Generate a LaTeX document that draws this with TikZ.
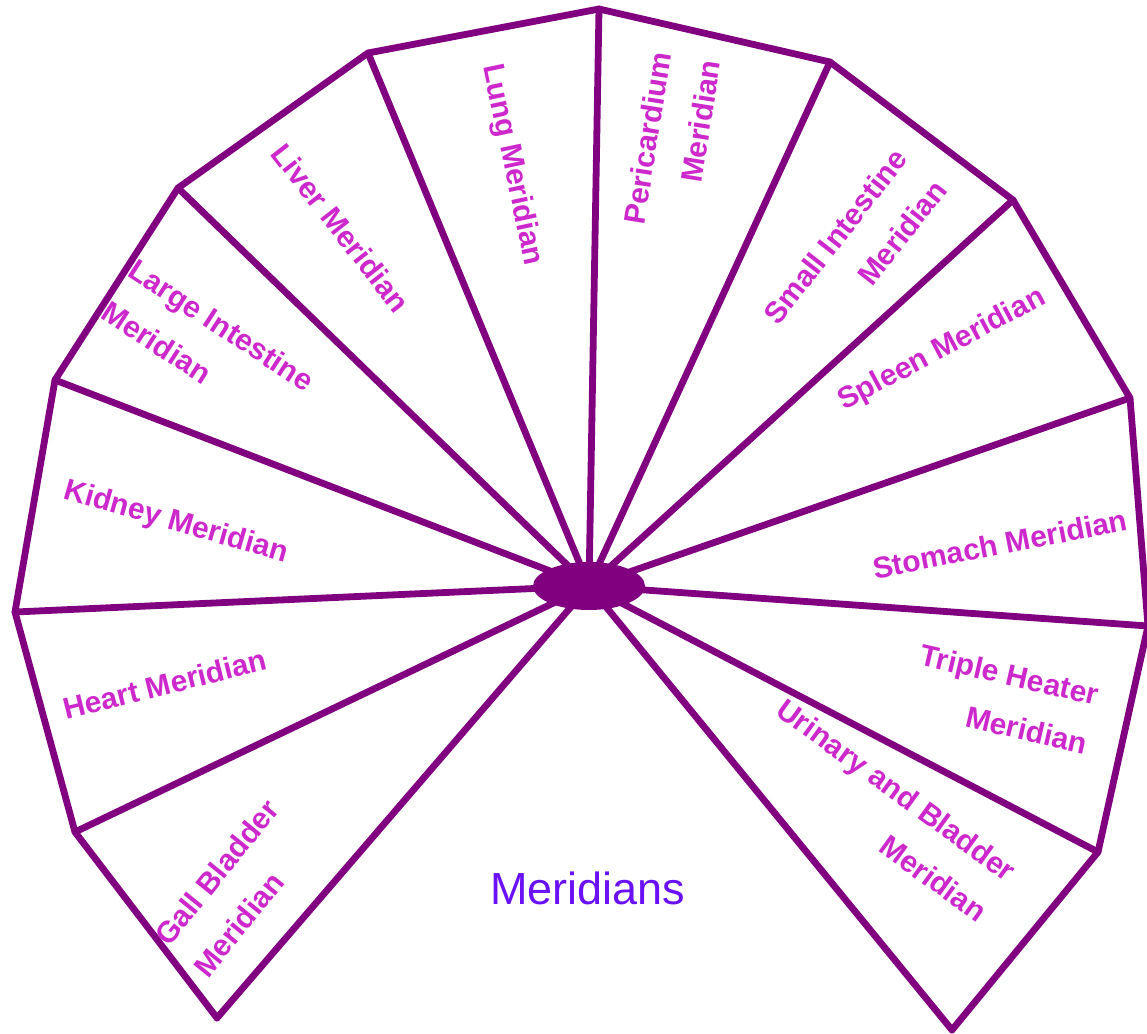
\documentclass[tikz,border=0pt]{standalone}
\usepackage{fontspec}
\setmainfont{Liberation Sans}
\usetikzlibrary{shapes.geometric}
\definecolor{fanline}{RGB}{128,0,128}
\definecolor{labelmag}{RGB}{204,40,204}
\definecolor{titleviolet}{RGB}{106,16,245}
\begin{document}
\begin{tikzpicture}[x=0.5pt,y=-0.5pt,
  spoke/.style={draw=fanline,line width=3.4pt,line cap=round,line join=round},
  lab/.style={text=labelmag,font=\fontsize{15}{25}\selectfont\bfseries,inner sep=0pt},
  title/.style={text=titleviolet,font=\fontsize{22.5}{26}\selectfont,inner sep=0pt}]
\useasboundingbox (0,0) rectangle (1147,1034);
\fill[white] (0,0) rectangle (1147,1034);
\coordinate (c) at (589,586);
\coordinate (v0) at (217,1018);
\coordinate (v1) at (75,832);
\coordinate (v2) at (15,612);
\coordinate (v3) at (55,380);
\coordinate (v4) at (178,188);
\coordinate (v5) at (368,53);
\coordinate (v6) at (599,9);
\coordinate (v7) at (830,62);
\coordinate (v8) at (1013,200);
\coordinate (v9) at (1130,398);
\coordinate (v10) at (1148,626);
\coordinate (v11) at (1098,852);
\coordinate (v12) at (952,1030);
\draw[spoke] (v0) -- (v1) -- (v2) -- (v3) -- (v4) -- (v5) -- (v6) -- (v7) -- (v8) -- (v9) -- (v10) -- (v11) -- (v12);
\foreach \i in {0,...,12} {\draw[spoke] (c) -- (v\i);}
\node[ellipse,fill=fanline,minimum width=56pt,minimum height=24pt,inner sep=0pt] (hub) at (c) {};
\node[lab,rotate=-78] (lung) at (512,165) {Lung Meridian};
\node[lab,rotate=81,align=right] (peri) at (672,142) {Pericardium\\Meridian};
\node[lab,rotate=52,align=right] (small) at (855,252) {Small Intestine\\Meridian};
\node[lab,rotate=28] (spleen) at (942,350) {Spleen Meridian};
\node[lab,rotate=11] (stomach) at (1000,544) {Stomach Meridian};
\node[lab,rotate=-13,align=right] (triple) at (1004,699) {Triple Heater\\Meridian};
\node[lab,rotate=-36,align=right] (urinary) at (882,810) {Urinary and Bladder\\Meridian};
\node[lab,rotate=51,align=left] (gall) at (236,888) {Gall Bladder\\Meridian};
\node[lab,rotate=14] (heart) at (165,684) {Heart Meridian};
\node[lab,rotate=-16] (kidney) at (176,523) {Kidney Meridian};
\node[lab,rotate=-33,align=left] (large) at (208,346) {Large Intestine\\Meridian};
\node[lab,rotate=-52] (liver) at (341,228) {Liver Meridian};
\node[title] (meridians) at (588,888) {Meridians};
\end{tikzpicture}
\end{document}
